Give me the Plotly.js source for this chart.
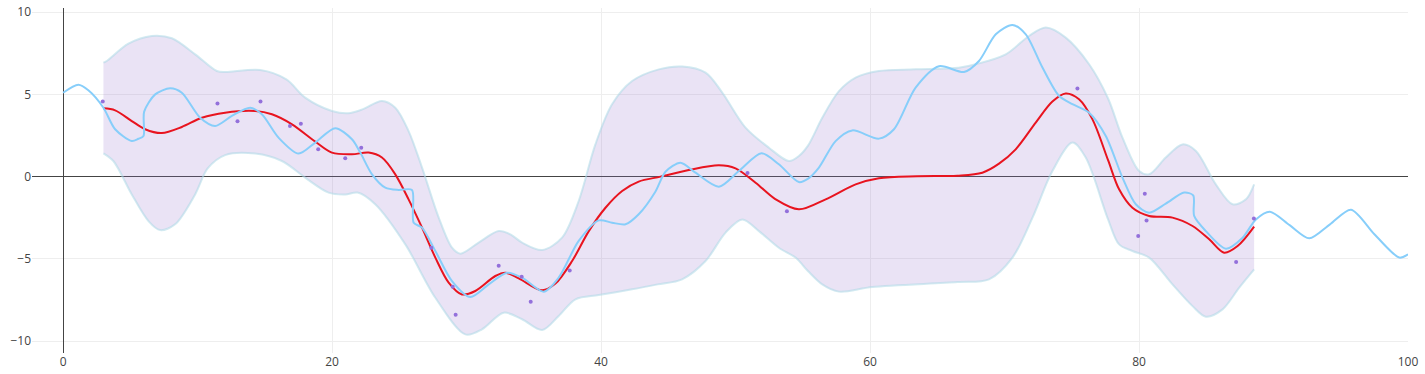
<!DOCTYPE html>
<html>
<head>
<meta charset="utf-8">
<script src="https://cdn.plot.ly/plotly-3.0.1.min.js"></script>
<style>html,body{margin:0;padding:0;background:#fff;}#chart{width:1425px;height:374px;}</style>
</head>
<body>
<div id="chart"></div>
<script>
// Observed data points
const obsX = [2.95, 11.48, 12.97, 14.68, 16.87, 17.68, 18.97, 20.98, 22.17, 27.38, 28.97, 29.19, 32.39, 34.1, 34.77, 37.67, 50.89, 53.82, 75.42, 79.94, 80.43, 80.56, 87.22, 88.54];
const obsY = [4.56, 4.44, 3.36, 4.56, 3.08, 3.22, 1.66, 1.11, 1.76, -4.32, -6.69, -8.39, -5.41, -6.08, -7.6, -5.7, 0.22, -2.11, 5.35, -3.61, -1.04, -2.66, -5.19, -2.55];

// Posterior mean
const meanX = [3.0, 3.87, 5.11, 6.1, 7.34, 8.83, 10.32, 12.05, 14.29, 15.53, 17.02, 18.75, 19.99, 21.48, 22.72, 23.71, 24.7, 25.69, 26.69, 27.68, 28.67, 29.66, 30.65, 32.14, 32.89, 33.88, 35.62, 36.61, 37.85, 39.09, 40.33, 41.57, 42.8, 44.42, 46.53, 48.76, 50.0, 51.49, 52.98, 54.71, 56.7, 58.93, 60.66, 63.5, 66.5, 68.35, 69.59, 70.83, 72.32, 73.56, 74.55, 75.54, 76.54, 77.7, 78.52, 79.51, 80.75, 82.49, 83.98, 85.22, 86.33, 87.33, 88.56];
const meanY = [4.15, 4.03, 3.38, 2.88, 2.65, 3.02, 3.58, 3.89, 3.99, 3.79, 3.18, 2.13, 1.46, 1.36, 1.46, 1.16, 0.14, -1.38, -3.10, -4.92, -6.44, -7.16, -6.95, -6.04, -5.84, -6.18, -6.91, -6.5, -5.13, -3.31, -1.89, -0.87, -0.30, 0.0, 0.40, 0.69, 0.5, -0.37, -1.38, -1.99, -1.38, -0.47, -0.10, 0.02, 0.06, 0.24, 0.79, 1.66, 3.28, 4.56, 5.05, 4.70, 3.48, 1.0, -0.77, -1.89, -2.39, -2.49, -3.0, -3.81, -4.62, -4.22, -3.04];

// Confidence band
const upperX = [3.0, 3.25, 4.86, 6.6, 8.09, 9.82, 11.43, 12.05, 14.66, 16.6, 18.0, 19.99, 21.2, 22.3, 23.71, 24.7, 25.69, 26.69, 27.93, 28.92, 29.54, 30.9, 32.39, 33.26, 34.13, 35.62, 37.1, 38.34, 39.58, 40.82, 42.31, 44.3, 46.03, 47.77, 49.01, 50.74, 52.48, 53.97, 54.71, 55.4, 56.45, 57.69, 58.93, 60.66, 63.39, 66.6, 67.86, 70.09, 71.82, 73.07, 74.55, 76.29, 77.7, 78.77, 80.01, 80.75, 81.99, 83.23, 84.23, 85.71, 86.96, 87.95, 88.56];
const upperY = [6.93, 7.03, 8.08, 8.55, 8.41, 7.43, 6.42, 6.36, 6.48, 5.91, 4.80, 3.99, 3.85, 4.1, 4.60, 4.19, 2.77, 0.55, -2.49, -4.32, -4.68, -4.01, -3.31, -3.51, -4.01, -4.46, -3.71, -1.48, 1.96, 4.40, 5.81, 6.52, 6.69, 6.32, 5.11, 2.98, 1.76, 0.95, 1.25, 1.9, 3.58, 5.2, 6.02, 6.42, 6.52, 6.62, 6.83, 7.43, 8.55, 9.06, 8.45, 6.83, 4.75, 2.37, 0.34, 0.14, 1.16, 1.96, 1.56, -0.47, -1.68, -1.38, -0.47];
const lowerX = [3.0, 3.74, 5.11, 6.35, 7.22, 8.33, 9.82, 10.75, 12.05, 14.29, 16.27, 18.0, 19.74, 20.98, 21.9, 23.21, 25.45, 27.68, 29.91, 31.15, 32.76, 34.13, 35.62, 36.85, 38.1, 39.83, 42.31, 44.2, 46.03, 47.77, 49.26, 50.5, 51.74, 53.22, 54.46, 55.4, 56.45, 57.69, 60.17, 66.5, 68.85, 70.59, 72.08, 73.56, 75.05, 76.04, 77.7, 78.52, 79.51, 80.75, 82.49, 83.98, 84.97, 86.21, 87.45, 88.56];
const lowerY = [1.42, 0.95, -1.08, -2.7, -3.25, -2.9, -1.08, 0.5, 1.31, 1.40, 0.95, -0.06, -0.97, -1.08, -0.97, -1.68, -4.12, -7.36, -9.59, -9.28, -8.27, -8.67, -9.32, -8.47, -7.46, -7.2, -6.85, -6.55, -6.24, -5.13, -3.40, -2.60, -3.31, -4.32, -4.92, -5.75, -6.55, -6.99, -6.71, -6.41, -6.24, -4.92, -2.49, 0.34, 2.07, 1.16, -2.6, -4.12, -4.52, -4.92, -6.55, -7.87, -8.51, -8.07, -6.75, -5.64];

// Posterior sample
const sampleX = [0, 1.14, 1.88, 3.0, 3.87, 5.11, 5.6, 5.98, 6.03, 6.85, 7.96, 8.83, 10.19, 11.31, 12.55, 13.91, 14.78, 16.02, 17.51, 18.75, 20.24, 21.48, 22.1, 22.97, 23.96, 24.95, 25.94, 26.07, 26.69, 27.68, 28.92, 30.28, 31.65, 33.01, 34.13, 35.74, 36.85, 38.34, 39.83, 40.82, 41.82, 42.8, 44.05, 44.79, 45.91, 47.02, 48.76, 50.25, 51.93, 53.22, 54.71, 55.4, 56.2, 57.44, 58.68, 60.66, 61.78, 63.39, 65.13, 66.99, 68.1, 69.35, 70.59, 71.58, 72.82, 74.06, 75.05, 76.29, 77.53, 78.77, 79.76, 80.75, 81.99, 83.36, 84.03, 84.1, 84.97, 86.46, 87.7, 88.69, 89.73, 91.2, 92.66, 94.2, 95.76, 97.5, 99.35, 100];
const sampleY = [5.1, 5.59, 5.25, 4.19, 2.88, 2.17, 2.3, 2.47, 3.95, 5.0, 5.37, 5.1, 3.58, 3.08, 3.69, 4.19, 3.79, 2.37, 1.40, 2.07, 2.94, 2.27, 1.46, 0.14, -0.67, -0.81, -0.81, -2.80, -3.10, -4.52, -6.35, -7.32, -6.55, -5.84, -6.14, -6.99, -6.14, -3.91, -2.66, -2.80, -2.90, -2.29, -0.9, 0.3, 0.85, 0.24, -0.61, 0.34, 1.42, 0.75, -0.33, -0.12, 0.55, 2.16, 2.81, 2.31, 2.88, 5.41, 6.71, 6.36, 7.03, 8.65, 9.22, 8.65, 6.63, 4.90, 4.40, 3.89, 2.47, -0.06, -1.68, -2.19, -1.64, -0.97, -1.14, -2.39, -3.31, -4.38, -3.71, -2.60, -2.13, -2.95, -3.75, -2.9, -2.01, -3.5, -4.92, -4.72];

const bandLine = {color: 'rgba(173, 216, 230, 0.55)', width: 2, shape: 'spline', smoothing: 0.9};

const traces = [
  {x: lowerX, y: lowerY, type: 'scatter', mode: 'lines', line: bandLine, hoverinfo: 'skip', showlegend: false},
  {x: upperX, y: upperY, type: 'scatter', mode: 'lines', line: bandLine, fill: 'tonexty', fillcolor: 'rgba(149, 117, 205, 0.2)', hoverinfo: 'skip', showlegend: false},
  {x: meanX, y: meanY, type: 'scatter', mode: 'lines', line: {color: '#e8141f', width: 2, shape: 'spline', smoothing: 0.9}, showlegend: false},
  {x: sampleX, y: sampleY, type: 'scatter', mode: 'lines', line: {color: '#87cefa', width: 2, shape: 'spline', smoothing: 0.8}, showlegend: false},
  {x: obsX, y: obsY, type: 'scatter', mode: 'markers', marker: {color: '#9370db', size: 4}, showlegend: false}
];

const layout = {
  width: 1425, height: 374,
  margin: {l: 32, r: 17, t: 8, b: 21},
  paper_bgcolor: '#fff', plot_bgcolor: '#fff',
  font: {family: '"Open Sans", verdana, arial, sans-serif', size: 12, color: '#444'},
  showlegend: false,
  xaxis: {range: [-2.31, 100], showgrid: true, gridcolor: '#eee', zeroline: true, zerolinecolor: '#444', zerolinewidth: 1, tickvals: [0, 20, 40, 60, 80, 100], ticks: '', showline: false},
  yaxis: {range: [-10.72, 10.25], showgrid: true, gridcolor: '#eee', zeroline: true, zerolinecolor: '#444', zerolinewidth: 1, tickvals: [-10, -5, 0, 5, 10], ticks: '', showline: false}
};

Plotly.newPlot('chart', traces, layout, {displayModeBar: false, staticPlot: true});
</script>
</body>
</html>
